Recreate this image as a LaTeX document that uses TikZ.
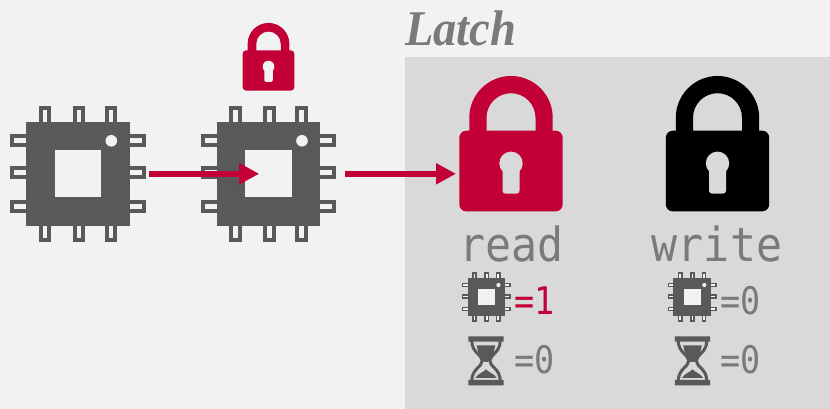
\documentclass[tikz,border=0pt]{standalone}
\usepackage{fontspec}
\setmainfont{Liberation Serif}
\newfontfamily\titlefont[FakeStretch=0.93]{Liberation Serif}
\newfontfamily\lockfont[FakeStretch=0.92]{DejaVu Sans Mono}
\newfontfamily\countfont[FakeStretch=0.88]{DejaVu Sans Mono}
\usetikzlibrary{positioning,arrows.meta}
\definecolor{latchred}{HTML}{C20037}
\definecolor{chipgray}{HTML}{595959}
\definecolor{labelgray}{HTML}{7A7A7A}
\definecolor{panelgray}{HTML}{D9D9D9}
\definecolor{pagegray}{HTML}{F2F2F2}
\tikzset{
  anchorbox/.style={inner sep=0pt, outer sep=0pt, minimum width=#1, minimum height=#1},
  latcharrow/.style={-{Triangle[length=20pt,width=20pt]}, draw=latchred, line width=6.4pt, shorten >=-0.2pt},
  locklabel/.style={inner sep=0pt, text=labelgray, font=\lockfont\fontsize{47}{47}\selectfont},
  countlabel/.style={inner sep=0pt, anchor=west, text=labelgray, font=\countfont\fontsize{38}{38}\selectfont},
  pics/chip/.style={code={
    \fill[chipgray] (-51.8,-51.8) rectangle (51.8,51.8);
    \fill[pagegray] (-23.3,-23.3) rectangle (23.3,23.3);
    \fill[pagegray] (33.5,33) circle (5.8);
    \foreach \s in {1,-1} \foreach \p in {-33,1,33} {
      \fill[chipgray, shift={(\p,\s*59.8)}, yscale=\s] (-6.3,-8) rectangle (6.3,8);
      \fill[pagegray, shift={(\p,\s*59.8)}, yscale=\s] (-2.3,-8) rectangle (2.3,4);
      \fill[chipgray, shift={(\s*59.8,\p)}, xscale=\s] (-8,-6.3) rectangle (8,6.3);
      \fill[pagegray, shift={(\s*59.8,\p)}, xscale=\s] (-8,-2.3) rectangle (4,2.3);
    }
  }},
  pics/padlock/.style 2 args={code={
    \fill[#1, even odd rule] (-41.7,-13) -- (-41.7,26) arc[start angle=180, end angle=0, radius=41.7] -- (41.7,-13) -- (24.5,-13) -- (24.5,26) arc[start angle=0, end angle=180, radius=24.5] -- (-24.5,-13) -- cycle;
    \fill[#1] (-44.7,-67.7) arc[start angle=270, end angle=180, radius=7] -- (-51.7,6) arc[start angle=180, end angle=90, radius=7] -- (44.7,13) arc[start angle=90, end angle=0, radius=7] -- (51.7,-60.7) arc[start angle=0, end angle=-90, radius=7] -- cycle;
    \fill[#2] (0,-19.6) circle (11.7);
    \fill[#2] (-8.5,-25) -- (-8.5,-47) arc[start angle=180, end angle=270, radius=3] -- (5.5,-50) arc[start angle=270, end angle=360, radius=3] -- (8.5,-25) -- cycle;
  }},
  pics/hourglass/.style={code={
    \fill[chipgray] (-17.7,19.2) rectangle (17.7,24.5) (-17.7,-24.5) rectangle (17.7,-19.2);
    \draw[chipgray, line width=3pt] (-14.2,20) .. controls (-14.2,8) and (-3.8,6) .. (-3.8,0) .. controls (-3.8,-6) and (-14.2,-8) .. (-14.2,-20);
    \draw[chipgray, line width=3pt] (14.2,20) .. controls (14.2,8) and (3.8,6) .. (3.8,0) .. controls (3.8,-6) and (14.2,-8) .. (14.2,-20);
    \fill[chipgray] (-9.3,15.5) -- (9.3,15.5) -- (7.5,7) -- (2,-1) -- (-2,-1) -- (-7.5,7) -- cycle;
    \fill[chipgray] (-10.7,-17) .. controls (-7,-12) and (-3,-12) .. (0,-8.5) .. controls (3,-12) and (7,-12) .. (10.7,-17) -- cycle;
  }}
}

\begin{document}
\begin{tikzpicture}[x=1pt, y=1pt]
    % Background
    \fill[pagegray] (0,0) rectangle (830,409);
    \useasboundingbox (0,0) rectangle (830,409);
    \fill[panelgray] (405,0) rectangle (830,352);
    
    % Title
    \node[inner sep=0pt, anchor=base west, text=labelgray, font=\titlefont\bfseries\itshape\fontsize{50}{50}\selectfont] (title) at (405,363) {Latch};
    
    % Large chips
    \node[anchorbox=136pt] (chipA) at (77.8,235.2) {};
    \pic at (chipA) {chip};
    \node[anchorbox=136pt] (chipB) at (268.5,235.2) {};
    \pic at (chipB) {chip};
    
    % Lock over second chip
    \node[anchorbox=60pt] (lockSmall) at (268.5,352.2) {};
    \pic[scale=0.5] at (lockSmall) {padlock={latchred}{pagegray}};
    
    % Read and write locks
    \node[minimum width=103.4pt, minimum height=135.3pt, inner sep=0pt, outer sep=0pt] (lockRead) at (511,265.3) {};
    \pic at (lockRead) {padlock={latchred}{panelgray}};
    \node[minimum width=104pt, minimum height=135.3pt, inner sep=0pt, outer sep=0pt] (lockWrite) at (717.5,265.3) {};
    \pic at (lockWrite) {padlock={black}{panelgray}};
    
    % Lock labels
    \node[locklabel] (readLabel) at (511.5,165) {read};
    \node[locklabel] (writeLabel) at (717,165) {write};
    
    % Counters
    \node[anchorbox=49pt] (chipRead) at (486.3,112) {};
    \pic[scale=0.3625] at (chipRead) {chip};
    \node[anchorbox=49pt] (chipWrite) at (692.2,112) {};
    \pic[scale=0.3625] at (chipWrite) {chip};
    \node[countlabel, text=latchred] (countReadA) at (514,108) {=1};
    \node[countlabel] (countWriteA) at (720,108) {=0};
    
    \node[anchorbox=49pt] (glassRead) at (486,48.2) {};
    \pic at (glassRead) {hourglass};
    \node[anchorbox=49pt] (glassWrite) at (692.5,48.2) {};
    \pic at (glassWrite) {hourglass};
    \node[countlabel] (countReadB) at (514,49) {=0};
    \node[countlabel] (countWriteB) at (720,49) {=0};
    
    % Connections
    \coordinate (lockEntry) at ([xshift=-3.5pt]lockRead.west |- chipB.east);
    \draw[latcharrow] ([xshift=3.2pt]chipA.east) -- ([xshift=-9.5pt]chipB.center);
    \draw[latcharrow] ([xshift=8.5pt]chipB.east) -- (lockEntry);
\end{tikzpicture}
\end{document}
